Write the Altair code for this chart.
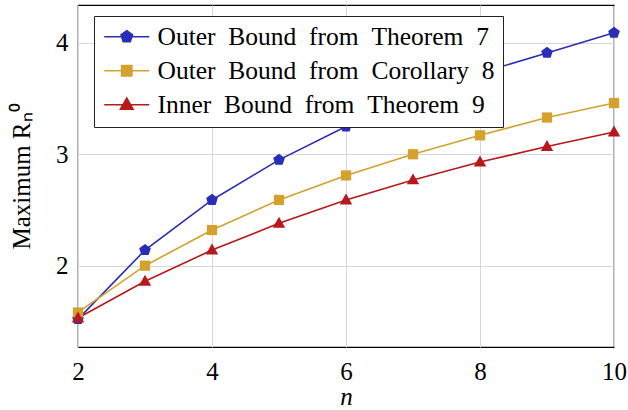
import altair as alt
import pandas as pd

n_vals = [2, 3, 4, 5, 6, 7, 8, 9, 10]
outer_thm7 = [1.52, 2.14, 2.59, 2.95, 3.25, 3.51, 3.73, 3.91, 4.09]
outer_cor8 = [1.58, 2.00, 2.32, 2.59, 2.81, 3.00, 3.17, 3.33, 3.46]
inner_thm9 = [1.53, 1.86, 2.14, 2.38, 2.59, 2.77, 2.93, 3.07, 3.20]

SP = "\u2002"
series_names = [
    SP.join(["Outer", "Bound", "from", "Theorem", "7"]) + "\u2005",
    SP.join(["Outer", "Bound", "from", "Corollary", "8"]) + "\u2005",
    SP.join(["Inner", "Bound", "from", "Theorem", "9"]) + "\u2005",
]
colors = ["#2a2db8", "#d4a22c", "#b8181a"]
x_ticks = [2, 4, 6, 8, 10]
y_ticks = [2, 3, 4]

rows = []
for name, vals in zip(series_names, [outer_thm7, outer_cor8, inner_thm9]):
    for n, v in zip(n_vals, vals):
        rows.append({"n": n, "R": v, "series": name})
df = pd.DataFrame(rows)

FONT = "Liberation Serif"
pent = "M0,-1L0.951,-0.309L0.588,0.809L-0.588,0.809L-0.951,-0.309Z"
line_part = "M-3.75,0H3.75"
tri = "M0,-1.1L1.05,0.75L-1.05,0.75Z"
sq = "M-0.85,-0.85H0.85V0.85H-0.85Z"

xs = alt.Scale(domain=[2, 10], nice=False, zero=False)
ys = alt.Scale(domain=[1.27, 4.34], nice=False, zero=False)

x_enc = alt.X("n:Q", scale=xs,
              axis=alt.Axis(values=x_ticks, title="n", titleFontStyle="italic",
                            labelPadding=12, titlePadding=0, labelFlush=False))
y_enc = alt.Y("R:Q", scale=ys,
              axis=alt.Axis(values=y_ticks, title="Maximum Rₙ⁰",
                            labelPadding=10, titlePadding=21))

cscale = alt.Scale(domain=series_names, range=colors)

lines = alt.Chart(df).mark_line(strokeWidth=1.6).encode(
    x=x_enc, y=y_enc,
    color=alt.Color("series:N", scale=cscale, legend=None),
)

points = alt.Chart(df).mark_point(filled=True, opacity=1).encode(
    x=x_enc, y=y_enc,
    color=alt.Color("series:N", scale=cscale, legend=None),
    shape=alt.Shape("series:N", scale=alt.Scale(domain=series_names, range=[pent, sq, tri]), legend=None),
    size=alt.Size("series:N", scale=alt.Scale(domain=series_names, range=[150, 140, 120]), legend=None),
)

leg = alt.Legend(
    title=None, orient="none", legendX=16, legendY=11,
    fillColor="white", strokeColor="#222222", cornerRadius=0,
    padding=8, symbolSize=144, symbolStrokeWidth=1.6,
    symbolOffset=12, labelOffset=18, rowPadding=7,
    labelFont=FONT, labelFontSize=25.5, labelColor="black", labelLimit=1000,
)
legend_layer = alt.Chart(df).mark_point(filled=True, opacity=1).encode(
    x=x_enc, y=y_enc,
    color=alt.Color("series:N", scale=cscale, legend=leg),
    stroke=alt.Stroke("series:N", scale=cscale, legend=leg),
    shape=alt.Shape("series:N", scale=alt.Scale(domain=series_names,
                    range=[line_part + pent, line_part + sq, line_part + tri]), legend=leg),
).transform_filter("datum.n > 100")

chart = alt.layer(lines, points, legend_layer).resolve_scale(
    color="independent", shape="independent", stroke="independent", size="independent"
).properties(
    width=536, height=342,
    autosize=alt.AutoSizeParams(type="none"),
    padding={"left": 78, "top": 5, "right": 14, "bottom": 63},
).configure_view(stroke="black", strokeWidth=1.2).configure_axis(
    labelFont=FONT, titleFont=FONT, labelFontSize=25, titleFontSize=25,
    labelColor="black", titleColor="black", titleFontWeight="normal",
    domain=False, ticks=False, gridColor="#d8d8d8", gridWidth=1,
)

chart.save("out.html", embed_options={"renderer": "svg", "actions": False})
